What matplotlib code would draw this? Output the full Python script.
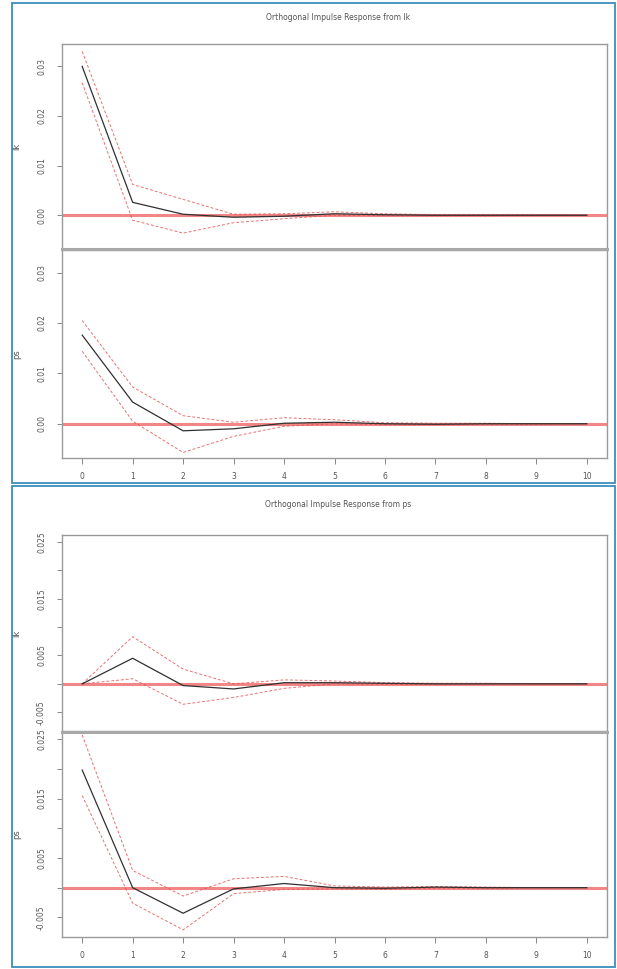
import matplotlib
matplotlib.use("Agg")
import matplotlib.pyplot as plt
from matplotlib.patches import Rectangle
from matplotlib.lines import Line2D

W, H = 617, 969
steps = list(range(11))

# Impulse from lk
lk_from_lk = [0.030, 0.0026, 0.0002, -0.0004, -0.0002, 0.0003, 0.0001, 0.0, 0.0, 0.0, 0.0]
lk_from_lk_upper = [0.033, 0.0062, 0.0032, 0.0002, 0.0003, 0.0007, 0.0003, 0.0001, 0.0001, 0.0001, 0.0]
lk_from_lk_lower = [0.0267, -0.0010, -0.0036, -0.0015, -0.0007, 0.0, -0.0001, -0.0001, -0.0001, 0.0, 0.0]

ps_from_lk = [0.0176, 0.0043, -0.0014, -0.0010, 0.0001, 0.0003, 0.0, -0.0001, 0.0, 0.0, 0.0]
ps_from_lk_upper = [0.0205, 0.0073, 0.0016, 0.0003, 0.0012, 0.0008, 0.0002, 0.0001, 0.0001, 0.0, 0.0]
ps_from_lk_lower = [0.0144, 0.0005, -0.0057, -0.0025, -0.0005, 0.0, -0.0002, -0.0002, -0.0001, -0.0001, 0.0]

# Impulse from ps
lk_from_ps = [0.0, 0.0045, -0.0003, -0.0009, 0.0002, 0.0002, 0.0001, 0.0, 0.0, 0.0, 0.0]
lk_from_ps_upper = [0.0, 0.0083, 0.0026, 0.0, 0.0007, 0.0005, 0.0002, 0.0001, 0.0001, 0.0, 0.0]
lk_from_ps_lower = [0.0, 0.0009, -0.0036, -0.0024, -0.0008, 0.0, -0.0001, -0.0001, 0.0, 0.0, 0.0]

ps_from_ps = [0.0198, 0.0, -0.0043, -0.0002, 0.0007, 0.0, -0.0001, 0.0001, 0.0, 0.0, 0.0]
ps_from_ps_upper = [0.0257, 0.0029, -0.0014, 0.0015, 0.0019, 0.0003, 0.0001, 0.0002, 0.0001, 0.0, 0.0]
ps_from_ps_lower = [0.0155, -0.0026, -0.0071, -0.0010, -0.0003, -0.0002, -0.0003, -0.0001, -0.0001, 0.0, 0.0]

titles = ["Orthogonal Impulse Response from lk", "Orthogonal Impulse Response from ps"]
resp_names = ["lk", "ps"]

top_ticks = [0.00, 0.01, 0.02, 0.03]
top_labels = ["0.00", "0.01", "0.02", "0.03"]
bot_ticks = [-0.005, 0.0, 0.005, 0.010, 0.015, 0.020, 0.025]
bot_labels = ["-0.005", "", "0.005", "", "0.015", "", "0.025"]

fig = plt.figure(figsize=(W / 100, H / 100), dpi=100)
fig.patch.set_facecolor("white")

def ax_at(l, t, r, b):
    return fig.add_axes([l / W, 1 - b / H, (r - l) / W, (b - t) / H])

TXT = "#555555"
FS = 5.5

def style(ax, ylim, ticks, labels, ylabel, show_x):
    ax.set_xlim(-0.4, 10.4)
    ax.set_ylim(*ylim)
    for s in ax.spines.values():
        s.set_color("#9a9a9a")
        s.set_linewidth(1.0)
    ax.set_yticks(ticks)
    ax.set_yticklabels(labels, rotation=90, va="center", fontsize=FS, color=TXT)
    ax.tick_params(axis="y", direction="out", length=3.5, width=0.7, colors="#888888", labelcolor=TXT, pad=8)
    ax.set_ylabel(ylabel, fontsize=FS + 0.5, color=TXT, labelpad=10)
    if show_x:
        ax.set_xticks(steps)
        ax.set_xticklabels([str(s) for s in steps], fontsize=FS, color=TXT)
        ax.tick_params(axis="x", direction="out", length=4, width=0.7, colors="#888888", labelcolor=TXT, pad=6)
    else:
        ax.set_xticks([])

def draw(ax, y, up, lo):
    ax.axhline(0, color="#f07070", lw=2.2, alpha=0.85, zorder=1)
    ax.plot(steps, up, color="#e05050", lw=0.7, ls=(0, (3, 2)), alpha=0.8, zorder=2)
    ax.plot(steps, lo, color="#e05050", lw=0.7, ls=(0, (3, 2)), alpha=0.8, zorder=2)
    ax.plot(steps, y, color="#303030", lw=0.9, zorder=3)

L, R = 62, 607
# top figure
ylim_top = (-0.0068, 0.0345)
a1 = ax_at(L, 44, R, 249)
draw(a1, lk_from_lk, lk_from_lk_upper, lk_from_lk_lower)
style(a1, ylim_top, top_ticks, top_labels, "lk", False)
a2 = ax_at(L, 250, R, 458)
draw(a2, ps_from_lk, ps_from_lk_upper, ps_from_lk_lower)
style(a2, ylim_top, top_ticks, top_labels, "ps", True)

# bottom figure
ylim_bot = (-0.0083, 0.0262)
b1 = ax_at(L, 535, R, 731)
draw(b1, lk_from_ps, lk_from_ps_upper, lk_from_ps_lower)
style(b1, ylim_bot, bot_ticks, bot_labels, "lk", False)
b2 = ax_at(L, 732, R, 937)
draw(b2, ps_from_ps, ps_from_ps_upper, ps_from_ps_lower)
style(b2, ylim_bot, bot_ticks, bot_labels, "ps", True)

for ax in (a1, a2, b1, b2):
    ax.yaxis.set_label_coords(-0.075, 0.5)

# gray separators between panels
for yy in (249.5, 731.5):
    fig.add_artist(Line2D([L / W, R / W], [1 - yy / H, 1 - yy / H], color="#a8a8a8", lw=2.2))

# titles
fig.text(338 / W, 1 - 17 / H, titles[0], ha="center", va="center", fontsize=FS, color=TXT)
fig.text(338 / W, 1 - 505 / H, titles[1], ha="center", va="center", fontsize=FS, color=TXT)

# blue frames
for (x0, y0, x1, y1) in [(12, 3, 615, 483), (12, 486, 615, 967)]:
    fig.add_artist(Rectangle((x0 / W, 1 - y1 / H), (x1 - x0) / W, (y1 - y0) / H,
                             fill=False, edgecolor="#3c8fbc", lw=1.3, transform=fig.transFigure))

fig.savefig("out.png", dpi=100, facecolor="white")
